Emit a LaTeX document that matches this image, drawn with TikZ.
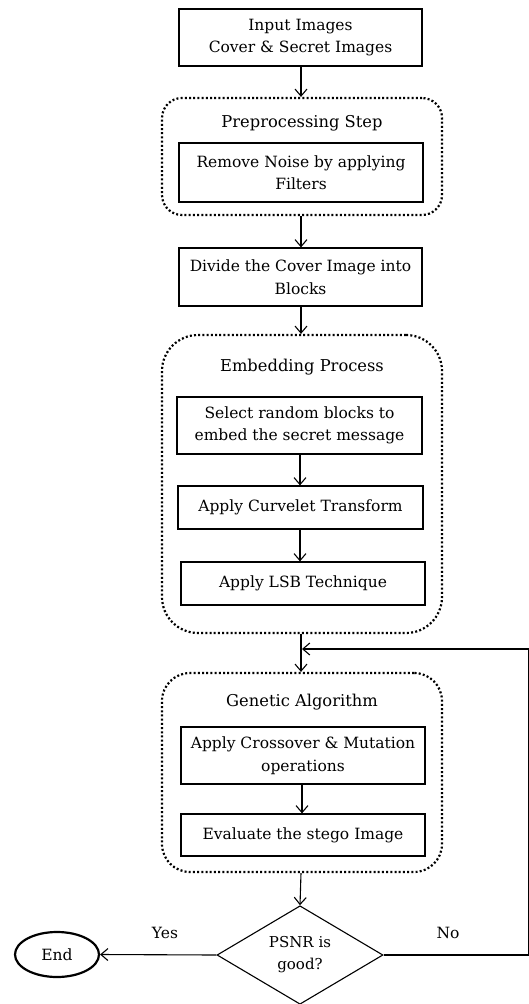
\documentclass[tikz,border=0pt]{standalone}
\usepackage{fontspec}
\setmainfont{DejaVu Serif}
\usetikzlibrary{arrows.meta,shapes.geometric}

\tikzset{
  procbox/.style={draw, line width=1.2pt, inner sep=0pt, align=center,
    font=\fontsize{15.5}{22.5}\selectfont},
  groupbox/.style={draw, line width=2.2pt, dash pattern=on 2pt off 2.2pt,
    inner sep=0pt},
  grouptitle/.style={font=\fontsize{16.3}{18}\selectfont, inner sep=0pt},
  flow/.style={line width=1.1pt, -{Straight Barb[length=7pt,width=12pt,line width=1.1pt]}},
  plain/.style={line width=1.1pt},
  lbl/.style={font=\fontsize{15.5}{18}\selectfont, inner sep=0pt}
}

\begin{document}
\begin{tikzpicture}[x=1pt, y=-1pt]
  \useasboundingbox (0,0) rectangle (529,1004);

  % dotted grouping frames
  \node[groupbox, rounded corners=20pt, minimum width=280pt, minimum height=117pt] (pre) at (302,156.5) {};
  \node[groupbox, rounded corners=36pt, minimum width=280pt, minimum height=298pt] (emb) at (302,484) {};
  \node[groupbox, rounded corners=28pt, minimum width=280pt, minimum height=199pt] (gen) at (302,772.5) {};

  \node[grouptitle] (pret) at (302,123) {Preprocessing Step};
  \node[grouptitle] (embt) at (302,367) {Embedding Process};
  \node[grouptitle] (gent) at (302,702) {Genetic Algorithm};

  % process steps
  \node[procbox, minimum width=243pt, minimum height=57pt] (inp) at (300.5,37.5) {Input Images\\Cover \& Secret Images};
  \node[procbox, minimum width=244pt, minimum height=59pt] (noise) at (301,172.5) {Remove Noise by applying\\Filters};
  \node[procbox, minimum width=243pt, minimum height=58pt] (div) at (300.5,277) {Divide the Cover Image into\\Blocks};
  \node[procbox, minimum width=245pt, minimum height=57pt] (sel) at (299.5,425.5) {Select random blocks to\\embed the secret message};
  \node[procbox, minimum width=245pt, minimum height=43pt] (curv) at (300.5,507.5) {Apply Curvelet Transform};
  \node[procbox, minimum width=244pt, minimum height=43pt] (lsb) at (303,583.5) {Apply LSB Technique};
  \node[procbox, minimum width=244pt, minimum height=57pt] (cross) at (303,755.5) {Apply Crossover \& Mutation\\operations};
  \node[procbox, minimum width=244pt, minimum height=42pt] (eval) at (303,835) {Evaluate the stego Image};

  % decision and terminator
  \node[draw, diamond, line width=1.1pt, minimum width=166pt, minimum height=98pt, inner sep=0pt,
        align=center, font=\fontsize{15}{22}\selectfont] (dec) at (300,955) {PSNR is\\good?};
  \node[draw, ellipse, line width=2.2pt, minimum width=84pt, minimum height=45pt, inner sep=0pt,
        font=\fontsize{15.5}{18}\selectfont] (end) at (57,954.5) {End};

  % main flow
  \draw[flow] (inp.south -| 301,0) -- (pre.north -| 301,0);
  \draw[flow] (pre.south -| 301,0) -- (div.north -| 301,0);
  \draw[flow] (div.south -| 301,0) -- (emb.north -| 301,0);
  \draw[flow] (sel.south -| 300,0) -- (curv.north -| 300,0);
  \draw[flow] (curv.south -| 300,0) -- (lsb.north -| 300,0);
  \draw[flow] (emb.south -| 301,0) -- (gen.north -| 301,0);
  \draw[flow] (cross.south -| 302,0) -- (eval.north -| 302,0);
  \draw[flow] (gen.south -| 301,0) -- (dec.north);

  % decision outcomes
  \coordinate (rb) at (528.5,955);
  \coordinate (rt) at (528.5,649);
  \coordinate (join) at (302,649);
  \draw[flow] (dec.west) -- (end.east);
  \draw[plain] (dec.east) -- (rb) -- (rt);
  \draw[flow] (rt) -- (join);

  \node[lbl] (yes) at (165,933) {Yes};
  \node[lbl] (no) at (448,933) {No};
\end{tikzpicture}
\end{document}
